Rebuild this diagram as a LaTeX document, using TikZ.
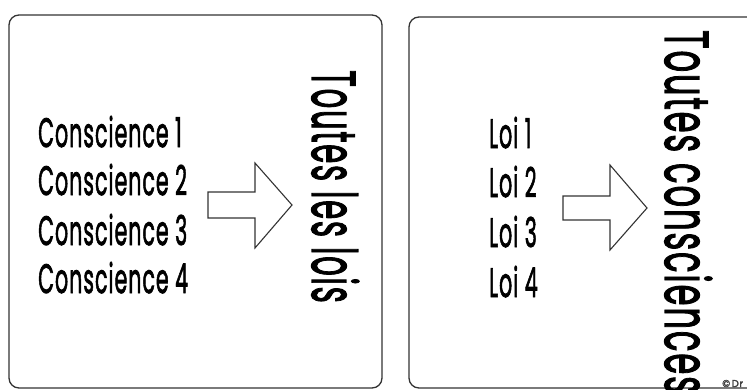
\documentclass[tikz,border=0pt]{standalone}
\usepackage{fontspec}
\newfontfamily\geo{Poppins}[FakeBold=2.2, LetterSpace=5]
\newcommand\cnd[1]{\scalebox{0.5}[1]{#1}}
\newcommand\cndw[1]{\scalebox{0.55}[1]{#1}}
\begin{document}
\begin{tikzpicture}[x=1pt,y=-1pt,
  frame/.style={draw=black!80, line width=1.3pt, rounded corners=10pt},
  blockarrow/.style={draw=black!80, line width=1.1pt, fill=white, line join=miter},
  item/.style={anchor=base west, inner sep=0pt, font=\geo\fontsize{41}{41}\selectfont},
  big/.style={anchor=base west, inner sep=0pt, rotate=-90, font=\geo\fontsize{62}{62}\selectfont},
  tiny/.style={anchor=base west, inner sep=0pt, font=\geo\fontsize{10}{10}\selectfont, text=black!75}]
\useasboundingbox (0,0) rectangle (747,389);
\clip (0,0) rectangle (747,389);
\fill[white] (0,0) rectangle (747,389);
% frames
\draw[frame] (9,15) rectangle (382,388);
\draw[frame] (409,17) rectangle (765,388);
% left box
\node[item] (c1) at (38,147) {\cnd{Conscience 1}};
\node[item] (c2) at (38,195) {\cnd{Conscience 2}};
\node[item] (c3) at (38,245) {\cnd{Conscience 3}};
\node[item] (c4) at (38,293) {\cnd{Conscience 4}};
\draw[blockarrow] (208,192) -- (255,192) -- (255,163) -- (292,205) -- (255,248) -- (255,218) -- (208,218) -- cycle;
\node[big] (tl) at (312,70) {\cnd{Toutes les lois}};
% right box
\node[item] (l1) at (489,148) {\cnd{Loi 1}};
\node[item] (l2) at (489,197) {\cnd{Loi 2}};
\node[item] (l3) at (489,247) {\cnd{Loi 3}};
\node[item] (l4) at (489,297) {\cnd{Loi 4}};
\draw[blockarrow] (563,196) -- (610,196) -- (610,165) -- (647,208) -- (610,250) -- (610,220) -- (563,220) -- cycle;
\node[big] (tc) at (665,30) {\cndw{Toutes consciences}};
\node[tiny] (cp) at (722,387) {\copyright\,Dr};
\end{tikzpicture}
\end{document}
